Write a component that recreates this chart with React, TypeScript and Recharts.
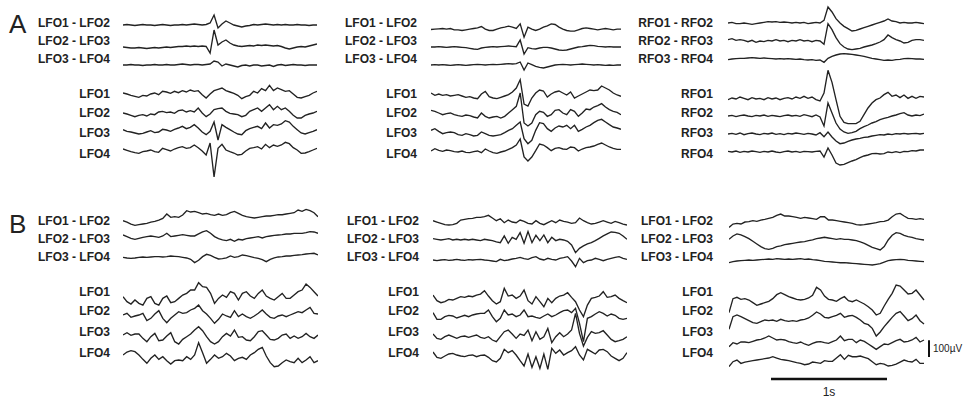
import React from 'react';
import { LineChart, Line, XAxis, YAxis, ReferenceLine, Label } from 'recharts';

// ---------- names ----------
const LFO_NAMES = ['LFO1 - LFO2', 'LFO2 - LFO3', 'LFO3 - LFO4', 'LFO1', 'LFO2', 'LFO3', 'LFO4'];
const RFO_NAMES = ['RFO1 - RFO2', 'RFO2 - RFO3', 'RFO3 - RFO4', 'RFO1', 'RFO2', 'RFO3', 'RFO4'];

// ---------- data (µV, sampled uniformly over each panel's epoch) ----------
// Panel A, left
const A1_LFO1_LFO2 = [0,3,0,-3,0,3,0,0,-3,0,3,0,-3,0,0,3,0,3,6,3,0,3,12,60,-18,6,24,12,0,-6,-12,-6,-3,3,0,3,6,3,0,3,0,3,0,0,3,0,0,-3,0,0];
const A1_LFO2_LFO3 = [0,-3,-6,-6,-3,-6,-9,-6,-3,-6,-3,0,-3,0,3,3,6,3,6,3,6,3,-36,102,12,30,42,24,12,6,3,6,9,6,12,9,12,9,6,9,3,-6,-12,-6,0,3,0,6,12,18];
const A1_LFO3_LFO4 = [0,0,3,0,0,-3,0,0,3,0,0,3,0,0,3,6,3,0,3,3,0,3,6,24,18,-6,6,0,-6,-12,-3,0,-6,0,0,-6,-3,0,-9,0,3,-3,0,3,0,0,-3,0,0,0];
const A1_LFO1 = [6,0,-8,-14,-20,-8,-12,0,6,-4,16,12,4,16,8,20,12,24,16,20,-4,-24,0,20,28,36,20,12,4,-8,-28,-16,-8,16,6,32,20,52,20,36,26,16,20,0,-20,-24,-16,-8,6,16];
const A1_LFO2 = [6,0,-8,-16,-8,-4,-12,0,-4,12,16,8,12,4,20,24,12,20,12,36,6,-16,0,26,32,36,16,4,0,-4,-16,-8,16,26,36,16,36,56,26,46,26,36,16,-8,-24,-24,-8,0,6,16];
const A1_LFO3 = [14,4,0,-6,-12,-8,0,8,-4,0,16,12,4,16,24,34,20,28,44,24,0,-16,4,60,-48,44,28,14,0,-12,-16,8,20,28,34,20,54,24,44,40,48,68,60,34,14,-6,-12,-4,4,14];
const A1_LFO4 = [12,4,-4,-10,-14,-4,0,6,-4,-8,16,8,0,12,20,26,16,20,36,20,0,-24,48,-156,16,40,6,-4,-12,-24,-20,0,16,20,26,12,40,20,36,28,36,52,44,20,6,-14,-12,-4,6,16];

// Panel A, middle
const A2_LFO1_LFO2 = [0,2,4,6,2,6,-2,-2,-6,-2,2,6,10,18,2,-6,-6,2,10,14,20,14,6,34,-46,14,2,-6,2,14,22,34,30,14,2,-6,-10,-10,-2,6,10,6,2,-2,2,6,2,-2,2,2];
const A2_LFO2_LFO3 = [0,0,2,0,-2,0,2,0,-2,-4,-8,-12,-14,-6,-2,0,2,0,2,4,6,4,2,42,-42,-4,-10,-12,-6,-2,-2,-6,-12,-18,-20,-18,-12,-6,0,2,6,10,8,4,2,0,2,0,0,0];
const A2_LFO3_LFO4 = [0,2,0,2,0,-2,0,2,0,-2,0,2,4,2,0,2,4,2,4,6,8,6,8,18,-30,12,2,-8,-14,-18,-12,-6,0,2,4,2,0,2,4,6,4,2,0,2,0,-2,0,-2,0,0];
const A2_LFO1 = [6,-8,0,-8,-4,-12,-8,-4,-12,-20,-16,-24,-28,0,16,-16,-24,-28,-20,-12,-4,12,36,86,-60,-72,-24,6,24,18,-18,0,12,18,6,-6,12,-24,-12,0,12,24,20,24,48,36,24,6,-6,-14];
const A2_LFO2 = [16,10,0,-10,-4,0,-10,-16,-20,-12,-16,-24,-30,0,-20,-30,-24,-20,-30,-20,0,20,40,120,-60,-78,-60,-10,10,4,-20,-10,16,20,0,-10,20,10,-20,0,24,20,36,44,56,36,20,10,4,-10];
const A2_LFO3 = [10,20,4,-10,-4,0,-4,-16,-20,-10,-16,-24,-20,0,-10,-20,-24,-20,-16,-4,10,20,40,60,-40,-70,-50,10,56,50,20,4,24,36,30,40,20,40,4,16,30,40,56,70,76,60,44,30,24,16];
const A2_LFO4 = [0,14,4,-2,6,2,-4,-6,0,-8,-10,-4,0,-10,12,0,-10,-14,-6,0,10,20,36,72,-36,-60,-36,2,42,36,20,2,16,20,12,10,24,20,0,12,20,24,30,40,48,36,24,16,10,10];

// Panel A, right
const A3_RFO1_RFO2 = [0,4,-4,-4,0,-4,-8,-4,0,4,8,6,8,4,6,4,0,4,0,4,-4,0,4,0,16,96,66,26,0,-20,-34,-48,-44,-36,-28,-20,-12,-4,4,12,24,12,8,0,4,0,0,4,0,-4];
const A3_RFO2_RFO3 = [8,14,4,8,4,-4,4,-8,0,-4,4,0,8,0,4,-4,4,0,8,0,4,-4,4,0,-20,104,68,20,-16,-36,-48,-52,-48,-44,-36,-30,-24,-16,-6,8,36,20,8,0,-12,-8,4,8,8,4];
const A3_RFO3_RFO4 = [-4,0,2,4,4,6,8,6,4,6,4,2,0,2,0,2,0,-2,0,-4,-6,-4,-8,-6,-20,4,16,24,30,32,30,28,24,20,16,10,4,0,-4,-8,-6,-8,-4,-2,2,4,2,0,0,-2];
const A3_RFO1 = [-4,6,0,12,4,-4,8,0,4,-4,8,0,6,-4,4,8,0,12,4,16,4,12,-4,-12,36,172,100,-4,-104,-140,-148,-148,-148,-134,-94,-54,-24,-4,6,26,40,16,24,8,24,4,16,4,16,12];
const A3_RFO2 = [0,4,-4,2,6,0,-4,4,0,6,-2,4,0,-4,2,6,0,4,-2,8,2,-4,6,-6,-60,78,18,-42,-78,-96,-104,-100,-92,-76,-64,-54,-42,-34,-22,-14,-8,0,6,14,20,6,0,6,2,12];
const A3_RFO3 = [0,4,-2,6,-4,2,6,0,-4,4,0,6,-2,2,-4,4,0,6,2,-2,4,0,-6,8,-16,12,-18,-42,-58,-54,-44,-36,-30,-26,-20,-18,-12,-8,-4,-6,0,-4,2,0,4,0,2,4,0,4];
const A3_RFO4 = [4,0,6,-2,4,0,6,2,-2,4,0,6,0,-4,2,6,0,4,-2,4,2,0,4,6,-30,24,-18,-66,-78,-74,-64,-54,-46,-34,-24,-18,-10,-8,-12,-10,0,-4,2,-4,4,2,8,6,12,12];

// Panel B, left
const B1_LFO1_LFO2 = [0,-8,-20,-28,-24,-20,-16,-8,-4,4,14,40,20,24,20,34,60,52,56,48,40,44,36,32,40,32,36,48,56,44,32,24,20,16,20,24,28,28,32,36,36,40,44,48,64,56,68,60,48,24];
const B1_LFO2_LFO3 = [14,4,-6,-12,-6,0,4,8,4,0,8,24,4,8,12,16,12,8,8,20,32,40,24,4,-8,-16,-20,-12,-24,-12,-16,-8,-4,0,4,-4,4,8,12,14,16,20,20,24,24,24,28,34,32,24];
const B1_LFO3_LFO4 = [0,-4,-6,-4,0,2,0,2,4,4,2,4,8,6,4,0,-4,-12,-32,-18,4,18,12,0,-10,-8,-4,8,0,4,14,10,4,-2,-6,-14,-26,-12,-4,2,4,8,8,12,14,16,20,22,24,14];
const B1_LFO1 = [0,-30,-44,-20,-40,-50,-10,0,-40,-50,-10,4,-36,-30,-10,10,20,40,40,84,60,56,20,-40,-10,10,-4,30,20,-20,20,30,4,-10,20,40,4,-10,-20,0,20,-10,-10,10,30,40,76,56,30,4];
const B1_LFO2 = [6,16,-8,0,6,16,-28,-14,12,32,-14,-40,-14,6,26,16,20,36,46,66,32,12,-14,-44,-20,12,0,-8,32,-4,12,-4,-14,0,16,36,12,-8,-14,0,6,-4,6,16,26,20,36,52,16,12];
const B1_LFO3 = [10,24,8,16,16,-10,-30,0,20,-24,-20,4,24,-30,-44,-16,0,16,40,60,36,0,-30,-44,-30,0,20,4,40,-4,0,-20,-24,0,30,36,10,-16,-20,-10,10,16,-10,4,-10,0,20,0,-10,10];
const B1_LFO4 = [6,24,32,26,6,-20,-44,-14,6,-20,-4,-28,-48,-28,-24,-28,-4,-20,6,80,20,-44,-20,6,-14,-4,16,0,-28,-14,-8,-20,6,20,40,52,0,-40,-64,-60,-40,-24,-34,-40,-14,-40,-24,-4,-40,-28];

// Panel B, middle
const B2_LFO1_LFO2 = [12,4,-4,-12,-14,-12,-4,16,20,24,26,32,32,36,44,28,12,24,0,16,4,0,16,8,-4,-8,12,-4,-12,0,12,0,16,8,4,-4,0,28,12,0,-8,-4,4,12,4,-4,8,0,-8,-14];
const B2_LFO2_LFO3 = [4,0,-4,0,4,-4,0,-4,0,-4,0,-4,-8,0,-4,-8,-16,-20,20,-24,12,0,40,-24,46,-20,24,-8,26,-20,12,-8,0,-4,-12,-34,-80,-54,-40,-28,-20,-8,6,20,32,44,42,36,20,0];
const B2_LFO3_LFO4 = [0,-4,0,2,-2,0,4,0,-2,2,0,2,4,0,-2,-6,-10,4,-4,0,6,10,16,8,4,14,20,6,0,10,4,0,10,14,20,-6,-40,10,-16,-4,0,10,4,-4,4,10,16,20,10,4];
const B2_LFO1 = [10,-24,-36,-30,-16,-20,-10,0,-4,4,0,10,16,36,4,-24,-44,-30,50,4,10,-10,4,40,-24,-44,0,-30,-60,-10,-36,-10,4,10,24,-4,-30,-80,-120,-50,-10,-4,4,30,-4,0,10,-10,-24,-36];
const B2_LFO2 = [20,-20,-20,-4,4,0,-12,-4,4,-4,6,12,16,16,36,-4,-34,-14,36,6,12,-4,6,36,-4,0,-8,-14,0,12,-4,6,20,32,36,20,46,-44,-154,-14,-4,12,26,16,0,12,4,-14,-20,-14];
const B2_LFO3 = [16,-10,-16,0,10,0,-10,0,4,-4,4,10,-4,-10,0,-20,-30,0,30,40,16,-10,16,8,40,-24,30,-16,0,50,-36,0,24,0,16,40,140,20,-56,-4,30,20,24,36,10,-16,-30,-24,-16,0];
const B2_LFO4 = [18,-14,-20,-6,6,10,0,-6,-10,-2,0,-10,-2,0,-14,-34,-42,-20,34,14,26,0,-34,-66,6,-74,-10,-80,6,-86,40,10,30,0,14,26,50,0,-30,34,20,6,30,34,20,-6,-20,-34,-20,14];

// Panel B, right
const B3_LFO1_LFO2 = [-34,-14,-10,-14,-2,0,6,2,10,14,20,26,38,46,34,34,30,26,20,26,22,18,14,30,30,10,10,6,2,-2,-6,-10,-18,-20,-18,-14,-10,-6,0,2,10,30,46,50,34,20,18,14,18,14];
const B3_LFO2_LFO3 = [0,20,32,26,16,4,-12,-28,-44,-56,-60,-54,-44,-40,-32,-28,-24,-20,-16,-14,-8,-4,4,8,12,8,4,0,4,0,0,-4,-8,-16,-24,-36,-48,-56,-64,-44,-4,24,40,36,24,16,12,4,0,-4];
const B3_LFO3_LFO4 = [-12,-6,-2,0,2,4,2,4,6,8,10,8,12,10,8,10,8,10,12,8,10,6,4,0,-4,-6,-8,-10,-12,-12,-14,-16,-18,-20,-22,-24,-26,-22,-18,-8,0,4,6,8,6,2,0,-2,-4,-6];
const B3_LFO1 = [-76,8,16,4,8,0,-16,-32,-24,-16,-8,8,32,44,32,20,12,4,0,4,12,28,76,60,24,4,0,-8,8,20,-4,-10,0,-12,-24,-40,-60,-90,-80,-36,4,40,90,84,60,36,40,60,30,0];
const B3_LFO2 = [-56,20,30,20,8,-4,-16,-20,-10,0,-4,0,-8,4,-4,-8,-4,-8,0,4,12,28,48,36,16,12,20,28,40,16,24,28,16,0,-20,-28,-50,-96,-72,-40,-12,16,40,50,24,-4,8,30,-4,-24];
const B3_LFO3 = [-16,8,0,12,12,8,16,24,28,36,48,36,24,28,24,14,8,4,12,0,-8,4,12,14,8,4,14,24,48,20,28,28,8,24,16,0,-16,-32,-16,0,-4,8,20,28,12,16,24,40,12,24];
const B3_LFO4 = [-30,0,10,-10,-2,2,6,10,14,18,22,30,22,14,10,6,0,-6,-10,-18,-14,-2,-6,-10,6,2,2,22,42,14,38,30,30,34,26,18,0,-18,-10,-14,-26,-22,-14,-2,10,2,-2,14,-10,-10];

// scale bars
const SCALE_TIME_S = 1;
const SCALE_AMP_UV = 100;

// ---------- layout (page pixels) ----------
const UV_PER_PX = 6;
const PX_PER_S = 116;
const FONT = '"Liberation Sans", Arial, Helvetica, sans-serif';
const INK = '#222';

type Layout = {
  left: number; plotLeft: number; plotRight: number; chartRight?: number;
  top: number; height: number; labelRight: number; labelY: number[]; baseY: number[];
};

const ROW_A = { top: 0, height: 190, labelY: [23, 41, 59, 94, 113, 133, 154] };
const ROW_B = { top: 195, height: 208, labelY: [221, 239, 257, 292, 311, 332, 353] };

const L_A1: Layout = { ...ROW_A, left: 30, plotLeft: 123, plotRight: 317, labelRight: 110, baseY: [25, 47, 65, 94, 114, 132, 151] };
const L_A2: Layout = { ...ROW_A, left: 335, plotLeft: 431, plotRight: 621, labelRight: 417, baseY: [29.5, 47, 65, 94, 113, 132, 151] };
const L_A3: Layout = { ...ROW_A, left: 635, plotLeft: 728, plotRight: 924, labelRight: 713, baseY: [23, 41, 59, 99, 116, 134, 152] };
const L_B1: Layout = { ...ROW_B, left: 30, plotLeft: 123, plotRight: 318, labelRight: 110, baseY: [220.7, 237.3, 257.3, 296.7, 316, 336.7, 356] };
const L_B2: Layout = { ...ROW_B, left: 335, plotLeft: 433, plotRight: 627, labelRight: 419, baseY: [222.7, 239.3, 260, 296.7, 316, 336.7, 355] };
const L_B3: Layout = { ...ROW_B, left: 635, plotLeft: 729, plotRight: 924, chartRight: 968, labelRight: 713, baseY: [221.7, 239.3, 260.7, 300, 320, 344, 361.7] };

function Panel({ layout, names, traces, children }: { layout: Layout; names: string[]; traces: number[][]; children?: React.ReactNode }) {
  const { left, plotLeft, plotRight, top, height, labelRight } = layout;
  const chartRight = layout.chartRight ?? plotRight;
  const width = chartRight - left;
  const yMax = height * UV_PER_PX;
  const dur = (plotRight - plotLeft) / PX_PER_S;
  const xMax = (chartRight - plotLeft) / PX_PER_S;
  const toVal = (y: number) => Math.round((top + height - y) * UV_PER_PX);
  const ticks = layout.labelY.map(toVal);
  const nameOf = new Map<number, string>(ticks.map((v, i) => [v, names[i]]));
  return (
    <div style={{ position: 'absolute', left, top }}>
      <LineChart width={width} height={height} margin={{ top: 0, right: 0, bottom: 0, left: 0 }}>
        <XAxis type="number" dataKey="t" domain={[0, xMax]} hide allowDataOverflow />
        <YAxis
          type="number"
          domain={[0, yMax]}
          allowDataOverflow
          width={plotLeft - left}
          ticks={ticks}
          interval={0}
          tickFormatter={(v: number) => nameOf.get(v) ?? ''}
          axisLine={false}
          tickLine={false}
          tickSize={0}
          tickMargin={plotLeft - labelRight}
          tick={{ fill: INK, fontSize: 12, fontWeight: 700, fontFamily: FONT }}
        />
        {traces.map((tr, k) => {
          const off = (top + height - layout.baseY[k]) * UV_PER_PX;
          const data = tr.map((v, i) => ({ t: (i * dur) / (tr.length - 1), v: v + off }));
          return (
            <Line
              key={k}
              data={data}
              dataKey="v"
              type="linear"
              stroke={INK}
              strokeWidth={1.35}
              dot={false}
              activeDot={false}
              isAnimationActive={false}
            />
          );
        })}
        {children}
      </LineChart>
    </div>
  );
}

export default function App() {
  const b3 = L_B3;
  const tBarStart = (771 - b3.plotLeft) / PX_PER_S;
  const hBarVal = (b3.top + b3.height - 379) * UV_PER_PX;
  const tVBar = (929 - b3.plotLeft) / PX_PER_S;
  const vBarLow = (b3.top + b3.height - 357) * UV_PER_PX;
  return (
    <div style={{ position: 'absolute', left: 0, top: 0, width: 968, height: 403, background: '#fff', overflow: 'hidden' }}>
      <svg style={{ position: 'absolute', left: 0, top: 0 }} width={968} height={403}>
        <text x={9} y={33} fontFamily={FONT} fontSize={26} fill={INK}>A</text>
        <text x={9} y={233} fontFamily={FONT} fontSize={26} fill={INK}>B</text>
      </svg>
      <Panel layout={L_A1} names={LFO_NAMES} traces={[A1_LFO1_LFO2, A1_LFO2_LFO3, A1_LFO3_LFO4, A1_LFO1, A1_LFO2, A1_LFO3, A1_LFO4]} />
      <Panel layout={L_A2} names={LFO_NAMES} traces={[A2_LFO1_LFO2, A2_LFO2_LFO3, A2_LFO3_LFO4, A2_LFO1, A2_LFO2, A2_LFO3, A2_LFO4]} />
      <Panel layout={L_A3} names={RFO_NAMES} traces={[A3_RFO1_RFO2, A3_RFO2_RFO3, A3_RFO3_RFO4, A3_RFO1, A3_RFO2, A3_RFO3, A3_RFO4]} />
      <Panel layout={L_B1} names={LFO_NAMES} traces={[B1_LFO1_LFO2, B1_LFO2_LFO3, B1_LFO3_LFO4, B1_LFO1, B1_LFO2, B1_LFO3, B1_LFO4]} />
      <Panel layout={L_B2} names={LFO_NAMES} traces={[B2_LFO1_LFO2, B2_LFO2_LFO3, B2_LFO3_LFO4, B2_LFO1, B2_LFO2, B2_LFO3, B2_LFO4]} />
      <Panel layout={L_B3} names={LFO_NAMES} traces={[B3_LFO1_LFO2, B3_LFO2_LFO3, B3_LFO3_LFO4, B3_LFO1, B3_LFO2, B3_LFO3, B3_LFO4]}>
        <ReferenceLine
          segment={[{ x: tBarStart, y: hBarVal }, { x: tBarStart + SCALE_TIME_S, y: hBarVal }]}
          stroke="#111"
          strokeWidth={2.5}
          ifOverflow="visible"
        >
          <Label value="1s" position="bottom" offset={8} fill={INK} fontSize={12} fontFamily={FONT} />
        </ReferenceLine>
        <ReferenceLine
          segment={[{ x: tVBar, y: vBarLow }, { x: tVBar, y: vBarLow + SCALE_AMP_UV }]}
          stroke="#111"
          strokeWidth={2}
          ifOverflow="visible"
        >
          <Label value="100µV" position="right" offset={4} fill={INK} fontSize={10} fontFamily={FONT} />
        </ReferenceLine>
      </Panel>
    </div>
  );
}
